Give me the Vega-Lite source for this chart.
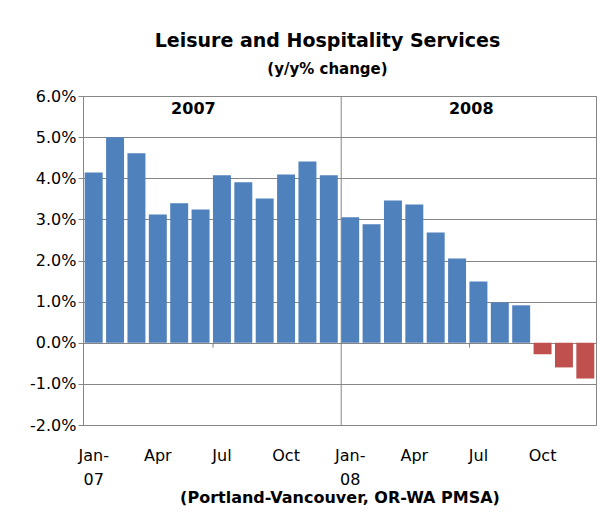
{
  "$schema": "https://vega.github.io/schema/vega-lite/v6.json",
  "width": 513,
  "height": 329,
  "autosize": {"type": "none"},
  "padding": {"left": 83, "top": 96, "right": 4, "bottom": 88},
  "background": "white",
  "config": {
    "font": "DejaVu Sans",
    "view": {"stroke": "#868686", "strokeWidth": 1}
  },
  "title": {
    "text": "Leisure and Hospitality Services",
    "subtitle": "(y/y% change)",
    "font": "DejaVu Sans",
    "subtitleFont": "DejaVu Sans",
    "fontSize": 19,
    "fontWeight": "bold",
    "color": "#000000",
    "subtitleFontSize": 15,
    "subtitleFontWeight": "bold",
    "subtitleColor": "#000000",
    "subtitlePadding": 11,
    "anchor": "middle",
    "dx": -12,
    "offset": 11
  },
  "datasets": {
    "bars": [
      {"month": "2007-01", "pct": 4.14},
      {"month": "2007-02", "pct": 5.00},
      {"month": "2007-03", "pct": 4.61},
      {"month": "2007-04", "pct": 3.12},
      {"month": "2007-05", "pct": 3.39},
      {"month": "2007-06", "pct": 3.24},
      {"month": "2007-07", "pct": 4.07},
      {"month": "2007-08", "pct": 3.90},
      {"month": "2007-09", "pct": 3.51},
      {"month": "2007-10", "pct": 4.09},
      {"month": "2007-11", "pct": 4.41},
      {"month": "2007-12", "pct": 4.07},
      {"month": "2008-01", "pct": 3.05},
      {"month": "2008-02", "pct": 2.88},
      {"month": "2008-03", "pct": 3.46},
      {"month": "2008-04", "pct": 3.36},
      {"month": "2008-05", "pct": 2.68},
      {"month": "2008-06", "pct": 2.05},
      {"month": "2008-07", "pct": 1.49},
      {"month": "2008-08", "pct": 0.98},
      {"month": "2008-09", "pct": 0.91},
      {"month": "2008-10", "pct": -0.28},
      {"month": "2008-11", "pct": -0.60},
      {"month": "2008-12", "pct": -0.87}
    ],
    "years": [
      {"month": "2007-06", "label": "2007"},
      {"month": "2008-07", "label": "2008"}
    ],
    "sep": [{"month": "2008-01"}],
    "zeroTicks": [{"month": "2007-07"}, {"month": "2008-07"}]
  },
  "layer": [
    {
      "data": {"name": "bars"},
      "mark": {"type": "bar"},
      "encoding": {
        "x": {
          "field": "month",
          "type": "ordinal",
          "sort": null,
          "scale": {"paddingInner": 0.16, "paddingOuter": 0.08},
          "axis": {
            "title": "(Portland-Vancouver, OR-WA PMSA)",
            "titleFont": "DejaVu Sans",
            "titleFontSize": 16,
            "titleFontWeight": "bold",
            "titleColor": "#000000",
            "titlePadding": 2,
            "labelAngle": 0,
            "labelFont": "DejaVu Sans",
            "labelFontSize": 16,
            "labelColor": "#000000",
            "labelPadding": 22,
            "labelLineHeight": 24,
            "labelOverlap": false,
            "domain": false,
            "ticks": false,
            "labelExpr": "datum.value == '2007-01' ? ['Jan-', '07'] : datum.value == '2008-01' ? ['Jan-', '08'] : slice(datum.value, 5) == '04' ? 'Apr' : slice(datum.value, 5) == '07' ? 'Jul' : slice(datum.value, 5) == '10' ? 'Oct' : ''"
          }
        },
        "y": {
          "field": "pct",
          "type": "quantitative",
          "scale": {"domain": [-2, 6], "nice": false, "zero": false},
          "axis": {
            "title": null,
            "values": [-2, -1, 0, 1, 2, 3, 4, 5, 6],
            "labelExpr": "(datum.value < 0 ? '-' : '') + format(abs(datum.value), '.1f') + '%'",
            "labelFont": "DejaVu Sans",
            "labelFontSize": 16,
            "labelColor": "#000000",
            "labelPadding": 2,
            "domainColor": "#868686",
            "tickColor": "#868686",
            "tickSize": 5,
            "gridColor": "#868686",
            "gridOpacity": 1
          }
        },
        "color": {
          "condition": {"test": "datum.pct < 0", "value": "#C0504D"},
          "value": "#4F81BD"
        }
      }
    },
    {
      "data": {"name": "sep"},
      "mark": {"type": "rule", "color": "#868686", "strokeWidth": 1},
      "encoding": {
        "x": {"field": "month", "type": "ordinal", "bandPosition": 0}
      }
    },
    {
      "data": {"name": "zeroTicks"},
      "mark": {"type": "rule", "color": "#868686", "strokeWidth": 1},
      "encoding": {
        "x": {"field": "month", "type": "ordinal", "bandPosition": 0},
        "y": {"datum": 0},
        "y2": {"datum": -0.12}
      }
    },
    {
      "data": {"name": "years"},
      "mark": {"type": "text", "font": "DejaVu Sans", "fontSize": 16, "fontWeight": "bold", "color": "#000000", "align": "center", "baseline": "middle"},
      "encoding": {
        "x": {"field": "month", "type": "ordinal", "bandPosition": 0.1},
        "y": {"datum": 5.68},
        "text": {"field": "label"}
      }
    }
  ]
}
